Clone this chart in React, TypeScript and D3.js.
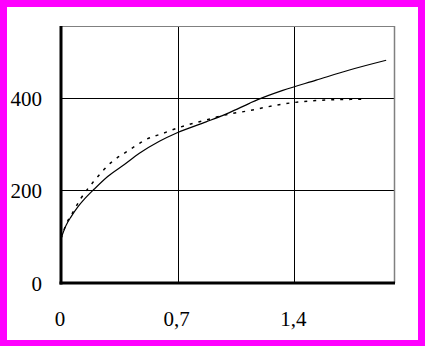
import React from "react";
import * as d3 from "d3";

const xTicks = [0, 0.7, 1.4];
const xTickLabels = ["0", "0,7", "1,4"];
const yTicks = [0, 200, 400];
const yTickLabels = ["0", "200", "400"];

const solidX = [0, 0.03, 0.062, 0.10, 0.14, 0.20, 0.28, 0.38, 0.47, 0.59, 0.70, 0.87, 1.01, 1.13, 1.18, 1.33, 1.53, 1.73, 1.95];
const solidY = [96, 124, 144, 164, 181, 203, 230, 256, 280, 306, 325, 348, 368, 388, 396, 416, 438, 460, 481];

const dashX = [0, 0.03, 0.07, 0.12, 0.20, 0.30, 0.40, 0.46, 0.50, 0.61, 0.71, 0.87, 1.01, 1.11, 1.18, 1.29, 1.53, 1.82];
const dashY = [96, 126, 152, 183, 221, 260, 285, 299, 308, 323, 336, 352, 365, 371, 376, 384, 394, 397];

export default function App() {
  const W = 425, H = 346;
  const left = 61, right = 394, top = 26, bottom = 283;
  const x = d3.scaleLinear().domain([0, 2]).range([left, right + 0.5]);
  const y = d3.scaleLinear().domain([0, 555]).range([bottom, top]);
  const line = d3.line<[number, number]>().x(d => x(d[0])).y(d => y(d[1])).curve(d3.curveMonotoneX);
  const solid = solidX.map((v, i) => [v, solidY[i]] as [number, number]);
  const dash = dashX.map((v, i) => [v, dashY[i]] as [number, number]);
  const font = "'Liberation Serif', 'Times New Roman', serif";
  return (
    <svg width={W} height={H} style={{ position: "fixed", left: 0, top: 0 }}>
      <rect x={0} y={0} width={W} height={H} fill="#ff00ff" />
      <rect x={7} y={7} width={411} height={333} fill="#ffffff" />
      {xTicks.slice(1).map(t => (
        <line key={"gx" + t} x1={Math.round(x(t)) + 0.5} x2={Math.round(x(t)) + 0.5} y1={top} y2={bottom} stroke="#000" strokeWidth={1} />
      ))}
      {yTicks.slice(1).map(t => (
        <line key={"gy" + t} x1={left} x2={right} y1={Math.round(y(t)) + 0.5} y2={Math.round(y(t)) + 0.5} stroke="#000" strokeWidth={1} />
      ))}
      <line x1={left} x2={right + 1} y1={top + 0.5} y2={top + 0.5} stroke="#808080" strokeWidth={1} />
      <line x1={right + 0.5} x2={right + 0.5} y1={top} y2={bottom} stroke="#808080" strokeWidth={1.5} />
      <path d={line(solid) || ""} fill="none" stroke="#000" strokeWidth={1.2} />
      <path d={line(dash) || ""} fill="none" stroke="#000" strokeWidth={1.5} strokeDasharray="3,6" />
      <line x1={left} x2={left} y1={top} y2={bottom + 1.5} stroke="#000" strokeWidth={3} />
      <line x1={left - 1.5} x2={right + 1} y1={bottom} y2={bottom} stroke="#000" strokeWidth={3} />
      {yTicks.map((t, i) => (
        <text key={"yl" + t} x={42} y={y(t) + 8} textAnchor="end" fontFamily={font} fontSize={21} fill="#000">
          {yTickLabels[i]}
        </text>
      ))}
      {xTicks.map((t, i) => (
        <text key={"xl" + t} x={x(t) - 1} y={326} textAnchor="middle" fontFamily={font} fontSize={21} fill="#000">
          {xTickLabels[i]}
        </text>
      ))}
    </svg>
  );
}
